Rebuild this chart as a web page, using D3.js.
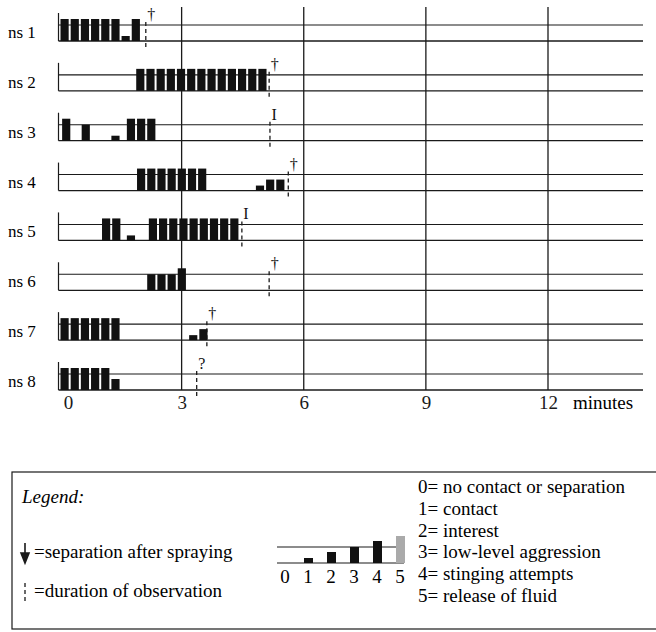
<!DOCTYPE html>
<html>
<head>
<meta charset="utf-8">
<script src="https://cdn.jsdelivr.net/npm/d3@7"></script>
<style>
	body { margin: 0; background: #fff; }
	svg text { font-family: "Liberation Serif", "Times New Roman", serif; }
</style>
</head>
<body>
<svg id="chart" width="656" height="632"></svg>
<script>
// Rows (subjects)
const rows = ["ns 1", "ns 2", "ns 3", "ns 4", "ns 5", "ns 6", "ns 7", "ns 8"];

// Behaviour bouts per row: [start minute, levels of consecutive 15 s bars]
const bouts = [
	[[0, [4, 4, 4, 4, 4, 4, 1, 4]]],
	[[1.86, [4, 4, 4, 4, 4, 4, 4, 4, 4, 4, 4, 4, 4]]],
	[[0.04, [4]], [0.52, [3]], [1.25, [1]], [1.63, [4, 4, 4]]],
	[[1.88, [4, 4, 4, 4, 4, 4, 4]], [4.8, [1, 2, 2]]],
	[[1.02, [4, 4]], [1.63, [1]], [2.17, [4, 4, 4, 4, 4, 4, 4, 4, 4]]],
	[[2.13, [3, 3, 3, 4]]],
	[[0, [4, 4, 4, 4, 4, 4]], [3.16, [1, 2]]],
	[[0, [4, 4, 4, 4, 4, 2]]]
];

// End of observation (minutes) and the mark above it
const endTimes = [2.12, 5.15, 5.17, 5.62, 4.48, 5.15, 3.62, 3.37];
const endMarks = ["\u2020", "\u2020", "I", "\u2020", "I", "\u2020", "\u2020", "?"];

const tickValues = [0, 3, 6, 9, 12];
const slot = 0.25; // one bar = 15 seconds

const levels = [0, 1, 2, 3, 4, 5];
const levelLabels = ["no contact or separation", "contact", "interest",
			"low-level aggression", "stinging attempts", "release of fluid"];

const svg = d3.select("#chart");
const ink = "#1a1a1a";

const x = d3.scaleLinear().domain([0, 12]).range([59.5, 548]);
const y = d3.scaleLinear().domain([0, rows.length - 1]).range([41, 390]);
const h = d3.scaleLinear().domain(levels).range([0, 5, 11, 16, 22, 27]);
const band = 16; // gap between baseline and upper line

// Flatten the bouts into single bars
const bars = [];
bouts.forEach((row, i) => {
	row.forEach(([t0, lv]) => {
		lv.forEach((l, j) => bars.push({row: i, t: t0 + j * slot, level: l}));
	});
});

// Vertical minute lines
svg.selectAll(".grid")
	.data(tickValues.filter(d => d > 0))
	.enter()
	.append("line")
		.attr("x1", d => x(d)).attr("x2", d => x(d))
		.attr("y1", 7).attr("y2", y(rows.length - 1))
		.attr("stroke", ink)
		.attr("stroke-width", 1.3);

const row = svg.selectAll(".row")
	.data(rows)
	.enter()
	.append("g")
		.attr("class", "row")
		.attr("transform", (d, i) => `translate(0, ${y(i)})`);

// Baseline and upper line
row.append("line")
		.attr("x1", x(0) - 1).attr("x2", 643)
		.attr("y1", 0).attr("y2", 0)
		.attr("stroke", ink).attr("stroke-width", 1.3);
row.append("line")
		.attr("x1", x(0) - 1).attr("x2", 643)
		.attr("y1", -band).attr("y2", -band)
		.attr("stroke", ink).attr("stroke-width", 1.1);
row.append("line")
		.attr("x1", x(0) - 1).attr("x2", x(0) - 1)
		.attr("y1", 0).attr("y2", -28)
		.attr("stroke", ink).attr("stroke-width", 1.2);

row.append("text")
		.attr("x", 8)
		.attr("y", -3)
		.style("font-size", "17px")
		.text(d => d);

// Behaviour bars
svg.selectAll(".bar")
	.data(bars)
	.enter()
	.append("rect")
		.attr("class", "bar")
		.attr("x", d => x(d.t) + 1)
		.attr("width", x(slot) - x(0) - 2)
		.attr("y", d => y(d.row) - h(d.level))
		.attr("height", d => h(d.level))
		.attr("fill", d => d.level === 5 ? "#aaa" : "#111");

// End of observation: dashed line and mark
row.append("line")
		.attr("x1", (d, i) => x(endTimes[i])).attr("x2", (d, i) => x(endTimes[i]))
		.attr("y1", -band - 3).attr("y2", 9)
		.attr("stroke", ink)
		.attr("stroke-width", 1.3)
		.attr("stroke-dasharray", "4,3");
row.append("text")
		.attr("x", (d, i) => x(endTimes[i]) + 1.5)
		.attr("y", -band - 5)
		.attr("fill", "#111")
		.style("font-size", "16px")
		.text((d, i) => endMarks[i]);

// Minute axis
const axis = svg.append("g")
		.attr("transform", `translate(0, ${y(rows.length - 1) + 5})`)
		.call(d3.axisBottom(x).tickValues(tickValues).tickSize(0).tickPadding(0));
axis.select(".domain").remove();
axis.selectAll("text")
		.style("font-family", "Liberation Serif")
		.style("font-size", "19px")
		.attr("fill", ink)
		.filter(d => d === 0).attr("dx", "0.45em");

svg.append("text")
		.attr("x", 573)
		.attr("y", 409)
		.style("font-size", "19px")
		.text("minutes");

// Legend box
const legend = svg.append("g");
legend.append("rect")
		.attr("x", 12).attr("y", 472)
		.attr("width", 700).attr("height", 157)
		.attr("fill", "none")
		.attr("stroke", ink)
		.attr("stroke-width", 1.2);

legend.append("text")
		.attr("x", 22).attr("y", 503)
		.style("font-size", "19px")
		.style("font-style", "italic")
		.text("Legend:");

legend.append("path")
		.attr("d", "M25,543V555M21,553L25,563L29,553Z")
		.attr("stroke", ink).attr("stroke-width", 1.6)
		.attr("fill", ink);
legend.append("text")
		.attr("x", 34).attr("y", 558)
		.style("font-size", "19px")
		.text("=separation after spraying");

legend.append("line")
		.attr("x1", 25).attr("x2", 25)
		.attr("y1", 583).attr("y2", 602)
		.attr("stroke", ink).attr("stroke-width", 1.3)
		.attr("stroke-dasharray", "4,3");
legend.append("text")
		.attr("x", 34).attr("y", 597)
		.style("font-size", "19px")
		.text("=duration of observation");

// Small example of the levels
const lx = d3.scaleLinear().domain([0, 5]).range([285, 400]);
const lBase = 563;
legend.append("line")
		.attr("x1", 277).attr("x2", 404)
		.attr("y1", lBase).attr("y2", lBase)
		.attr("stroke", ink).attr("stroke-width", 1.2);
legend.append("line")
		.attr("x1", 277).attr("x2", 404)
		.attr("y1", lBase - band).attr("y2", lBase - band)
		.attr("stroke", ink).attr("stroke-width", 1.2);
legend.selectAll(".lbar")
	.data(levels.filter(d => d > 0))
	.enter()
	.append("rect")
		.attr("x", d => lx(d) - 4)
		.attr("width", 9)
		.attr("y", d => lBase - h(d))
		.attr("height", d => h(d))
		.attr("fill", d => d === 5 ? "#aaa" : "#111");
legend.selectAll(".lnum")
	.data(levels)
	.enter()
	.append("text")
		.attr("x", d => lx(d))
		.attr("y", 583)
		.style("font-size", "19px")
		.style("text-anchor", "middle")
		.text(d => d);

legend.selectAll(".ldesc")
	.data(levels)
	.enter()
	.append("text")
		.attr("x", 418)
		.attr("y", d => 493 + d * 21.8)
		.style("font-size", "19px")
		.text((d, i) => `${d}= ${levelLabels[i]}`);
</script>
</body>
</html>
